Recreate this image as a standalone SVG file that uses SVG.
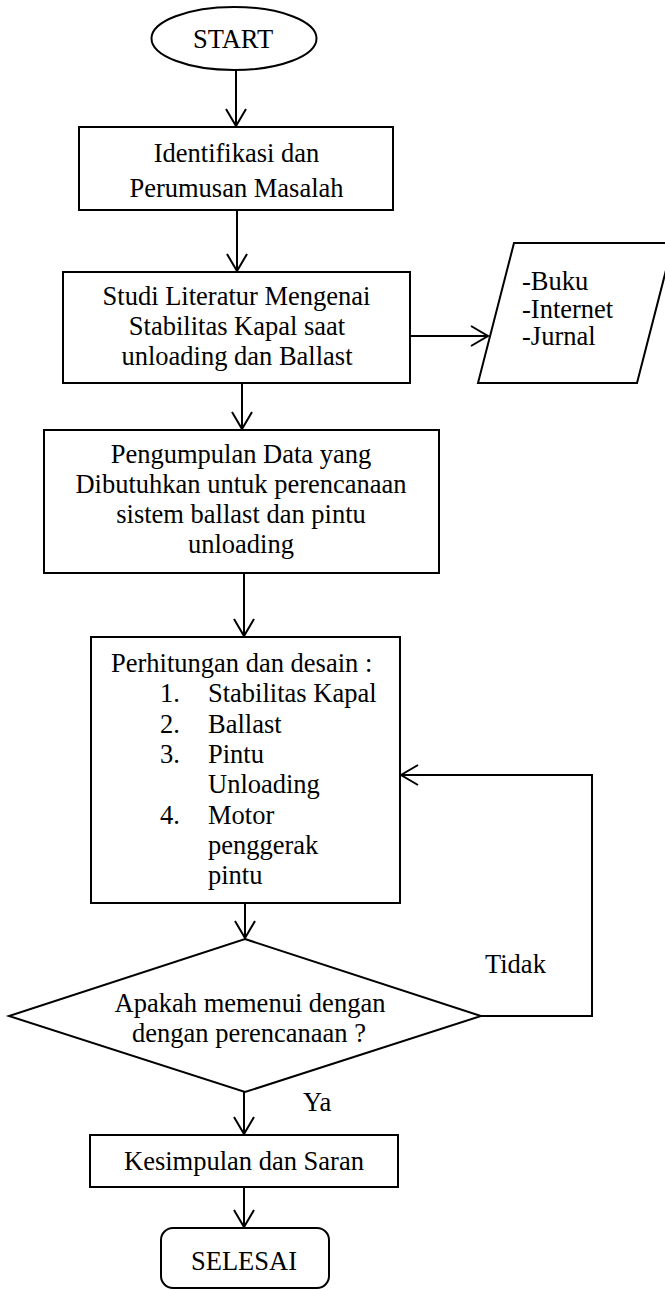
<svg xmlns="http://www.w3.org/2000/svg" width="665" height="1290" viewBox="0 0 665 1290">
<style>
.shape{fill:#fff;stroke:#000;stroke-width:2}
.conn{fill:none;stroke:#000;stroke-width:2}
text{font-family:"Liberation Serif","Times New Roman",serif;font-size:26.5px;fill:#000}
.c{text-anchor:middle}
</style>
<defs>
<marker id="arr" markerUnits="userSpaceOnUse" viewBox="-20 -12 22 24" markerWidth="22" markerHeight="24" refX="0" refY="0" orient="auto">
<path d="M-17,-10 L0,0 L-17,10" fill="none" stroke="#000" stroke-width="2"/>
</marker>
</defs>
<rect width="665" height="1290" fill="#fff"/>
<g id="start">
<ellipse class="shape" cx="234" cy="38.5" rx="82.5" ry="31.5"/>
<text class="c" x="233" y="48">START</text>
</g>
<g id="identifikasi">
<rect class="shape" x="79" y="127" width="314" height="83"/>
<text class="c" x="236.5" y="162">Identifikasi dan</text>
<text class="c" x="236.5" y="197">Perumusan Masalah</text>
</g>
<g id="studi">
<rect class="shape" x="63" y="272" width="347" height="111"/>
<text class="c" x="236.5" y="305">Studi Literatur Mengenai</text>
<text class="c" x="237" y="335">Stabilitas Kapal saat</text>
<text class="c" x="237" y="365">unloading dan Ballast</text>
</g>
<g id="sumber">
<polygon class="shape" points="514,243 673,243 637,383 478,383"/>
<text x="522" y="290">-Buku</text>
<text x="522" y="318">-Internet</text>
<text x="522" y="345">-Jurnal</text>
</g>
<g id="pengumpulan">
<rect class="shape" x="44" y="430" width="395" height="143"/>
<text class="c" x="241" y="463">Pengumpulan Data yang</text>
<text class="c" x="241" y="493">Dibutuhkan untuk perencanaan</text>
<text class="c" x="241" y="523">sistem ballast dan pintu</text>
<text class="c" x="241" y="553">unloading</text>
</g>
<g id="perhitungan">
<rect class="shape" x="91" y="637" width="309" height="266"/>
<text x="111" y="672">Perhitungan dan desain :</text>
<text x="160" y="702">1.</text><text x="208" y="702">Stabilitas Kapal</text>
<text x="160" y="733">2.</text><text x="208" y="733">Ballast</text>
<text x="160" y="763">3.</text><text x="208" y="763">Pintu</text>
<text x="208" y="793">Unloading</text>
<text x="160" y="824">4.</text><text x="208" y="824">Motor</text>
<text x="208" y="854">penggerak</text>
<text x="208" y="884">pintu</text>
</g>
<g id="keputusan">
<polygon class="shape" points="245,939 481,1016 245,1092 9,1016"/>
<text class="c" x="250" y="1012">Apakah memenui dengan</text>
<text class="c" x="249" y="1042">dengan perencanaan ?</text>
</g>
<g id="kesimpulan">
<rect class="shape" x="90" y="1135" width="308" height="52"/>
<text class="c" x="244" y="1170">Kesimpulan dan Saran</text>
</g>
<g id="selesai">
<rect class="shape" x="161" y="1228" width="168" height="60" rx="12" ry="12"/>
<text class="c" x="244" y="1270">SELESAI</text>
</g>
<g id="connectors">
<path class="conn" d="M236,70 V126" marker-end="url(#arr)"/>
<path class="conn" d="M237,210 V271" marker-end="url(#arr)"/>
<path class="conn" d="M410,336 H488" marker-end="url(#arr)"/>
<path class="conn" d="M242,383 V429" marker-end="url(#arr)"/>
<path class="conn" d="M244,573 V636" marker-end="url(#arr)"/>
<path class="conn" d="M245,903 V938" marker-end="url(#arr)"/>
<path class="conn" d="M481,1016 H592 V775 H401" marker-end="url(#arr)"/>
<path class="conn" d="M244,1092 V1134" marker-end="url(#arr)"/>
<path class="conn" d="M244,1187 V1227" marker-end="url(#arr)"/>
<text x="485" y="973">Tidak</text>
<text x="303" y="1111">Ya</text>
</g>
</svg>
